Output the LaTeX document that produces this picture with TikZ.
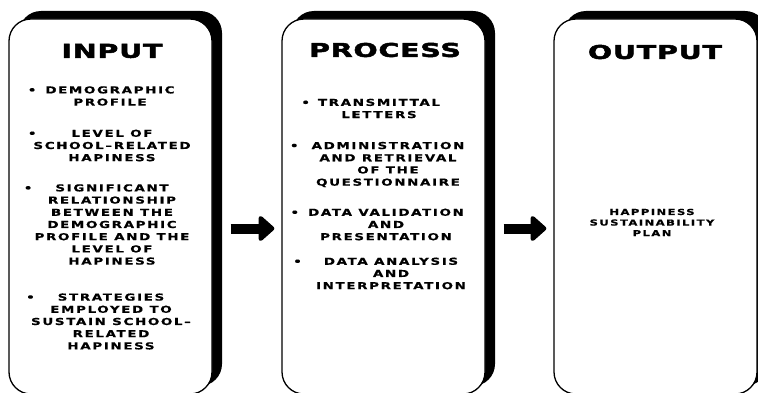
\documentclass[tikz,border=0pt]{standalone}
\usepackage{fontspec}
\newfontfamily\headfont[FakeStretch=1.5,LetterSpace=4,FakeBold=2.5]{DejaVu Sans}
\newfontfamily\itemfont[FakeStretch=1.4,LetterSpace=17,FakeBold=0.6]{DejaVu Sans}
\usetikzlibrary{arrows.meta,shadows}

\begin{document}
\begin{tikzpicture}[x=1pt,y=-1pt,>={Triangle[length=17pt,width=29pt,round]}]
    \tikzset{colbox/.style={draw,line width=1.3pt,rounded corners=22pt,fill=white,
            minimum width=203pt,minimum height=375pt,inner sep=0pt,
            drop shadow={shadow xshift=10pt,shadow yshift=8pt,fill=black,opacity=1}},
        head/.style={font=\headfont\bfseries\fontsize{19}{19}\selectfont,inner sep=0pt},
        item/.style={font=\itemfont\bfseries\fontsize{9.6}{12.2}\selectfont,align=center,inner sep=0pt},
        flow/.style={->,line width=10pt}}

    \useasboundingbox (0,0) rectangle (758,393);

    \node[colbox] (in)   at (110.5,206.5) {};
    \node[colbox] (proc) at (383.5,206.5) {};
    \node[colbox] (out)  at (655.5,206.5) {};

    \node[head] (inhead)   at (112,51) {INPUT};
    \node[head] (prochead) at (385,50) {PROCESS};
    \node[head] (outhead)  at (655,52) {OUTPUT};

    % input items
    \node[item] (in1) at (110,96)    {\llap{\textbullet\hspace{9pt}}DEMOGRAPHIC\\PROFILE};
    \node[item] (in2) at (112,145.5) {\llap{\textbullet\hspace{35pt}}LEVEL OF\\SCHOOL–RELATED\\HAPINESS};
    \node[item] (in3) at (112,224.5) {\llap{\textbullet\hspace{23pt}}SIGNIFICANT\\RELATIONSHIP\\BETWEEN THE\\DEMOGRAPHIC\\PROFILE AND THE\\LEVEL OF\\HAPINESS};
    \node[item] (in4) at (111,321.5) {\llap{\textbullet\hspace{23pt}}STRATEGIES\\EMPLOYED TO\\SUSTAIN SCHOOL–\\RELATED\\HAPINESS};

    % process items
    \node[item] (proc1) at (379,108.5) {\llap{\textbullet\hspace{8pt}}TRANSMITTAL\\LETTERS};
    \node[item] (proc2) at (388,164.5) {\llap{\textbullet\hspace{13pt}}ADMINISTRATION\\AND RETRIEVAL\\OF THE\\QUESTIONNAIRE};
    \node[item] (proc3) at (386,224.5) {\llap{\textbullet\hspace{9pt}}DATA VALIDATION\\AND\\PRESENTATION};
    \node[item] (proc4) at (391,273.5) {\llap{\textbullet\hspace{22pt}}DATA ANALYSIS\\AND\\INTERPRETATION};

    % output item
    \node[item,font=\itemfont\bfseries\fontsize{8.3}{10.6}\selectfont] (out1) at (652,222.5)
        {HAPPINESS\\SUSTAINABILITY\\PLAN};

    \draw[flow,shorten <=18pt,shorten >=7pt] ([yshift=-22pt]in.east) -- ([yshift=-22pt]proc.west);
    \draw[flow,shorten <=18pt,shorten >=7pt] ([yshift=-22pt]proc.east) -- ([yshift=-22pt]out.west);
\end{tikzpicture}
\end{document}
